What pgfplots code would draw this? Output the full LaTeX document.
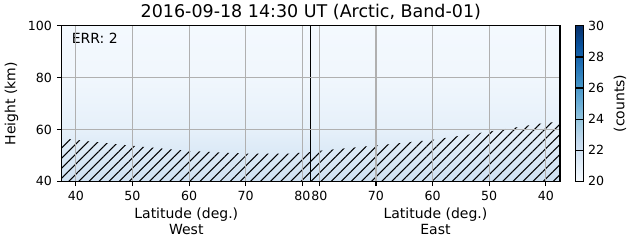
\documentclass[border=0pt]{standalone}
\usepackage{pgfplots}
\pgfplotsset{compat=1.18}
\usepackage{fontspec}
\setmainfont{DejaVu Sans}
\usetikzlibrary{patterns.meta}
\definecolor{gridgray}{HTML}{B0B0B0}
\pgfplotsset{
  colormap={Blues}{
    rgb255=(247,251,255) rgb255=(222,235,247) rgb255=(198,219,239)
    rgb255=(158,202,225) rgb255=(107,174,214) rgb255=(66,146,198)
    rgb255=(33,113,181) rgb255=(8,81,156) rgb255=(8,48,107)}
}
\begin{document}
\begin{tikzpicture}
\begin{axis}[
  scale only axis,
  width=356pt, height=111pt,
  xmin=-44, xmax=44, ymin=40, ymax=100,
  xtick={-41.5,-31.5,-21.5,-11.5,-1.5,1.5,11.5,21.5,31.5,41.5},
  xticklabels={40,50,60,70,80,80,70,60,50,40},
  ytick={40,60,80,100},
  tick align=outside,
  major tick length=3.5pt,
  xtick pos=bottom, ytick pos=left,
  grid=major,
  major grid style={gridgray, line width=0.8pt},
  axis line style={line width=0.8pt},
  every tick/.style={black, line width=0.8pt},
  tick label style={font=\fontsize{9}{10}\selectfont},
  /pgf/number format/assume math mode=true,
  ylabel={Height (km)},
  ylabel style={font=\fontsize{10}{12}\selectfont},
  title={2016-09-18 14:30 UT (Arctic, Band-01)},
  title style={font=\fontsize{12.5}{14}\selectfont, yshift=-5.5pt},
  axis on top,
  clip mode=individual,
  colormap name=Blues,
  point meta min=20, point meta max=30,
  colorbar,
  colorbar style={
    at={(parent axis.north east)}, anchor=north west, xshift=2.3pt,
    width=5.8pt,
    ytick={20,22,24,26,28,30},
    tick label style={font=\fontsize{9}{10}\selectfont},
    /pgf/number format/assume math mode=true,
    ylabel={(counts)},
    ylabel style={font=\fontsize{10}{12}\selectfont},
    axis line style={line width=0.8pt},
    major tick length=3.5pt,
  },
]
\addplot[surf, shader=interp, mesh/ordering=x varies, mesh/cols=2, point meta=\thisrow{c}] table {
x y c
-44 40 22.05
44 40 22.05
-44 60 20.85
44 60 20.85
-44 80 20.33
44 80 20.33
-44 100 20.17
44 100 20.17
};
\addplot[draw=none, pattern={Lines[angle=45, distance=5.1pt, line width=0.75pt]}] coordinates {
(-44,56.6) (-41.5,56.0) (-31.5,53.7) (-21.5,51.7) (-11.5,50.7) (-4,50.7) (0,51.3)
(1.5,51.8) (11.5,53.8) (21.5,56.0) (31.5,59.2) (41.5,62.6) (44,63.0)
} \closedcycle;
\addplot[black, line width=0.9pt] coordinates {(0,40) (0,100)};
\node[anchor=north west, font=\fontsize{10}{12}\selectfont, inner sep=0pt] at ([xshift=7pt,yshift=-5pt]rel axis cs:0,1) {ERR: 2};
\node[anchor=north, align=center, font=\fontsize{10}{11.5}\selectfont, inner xsep=0pt, inner ysep=4pt] at ([yshift=-14.5pt]axis cs:-22,40) {Latitude (deg.)\\West};
\node[anchor=north, align=center, font=\fontsize{10}{11.5}\selectfont, inner xsep=0pt, inner ysep=4pt] at ([yshift=-14.5pt]axis cs:22,40) {Latitude (deg.)\\East};
\end{axis}
\end{tikzpicture}
\end{document}
